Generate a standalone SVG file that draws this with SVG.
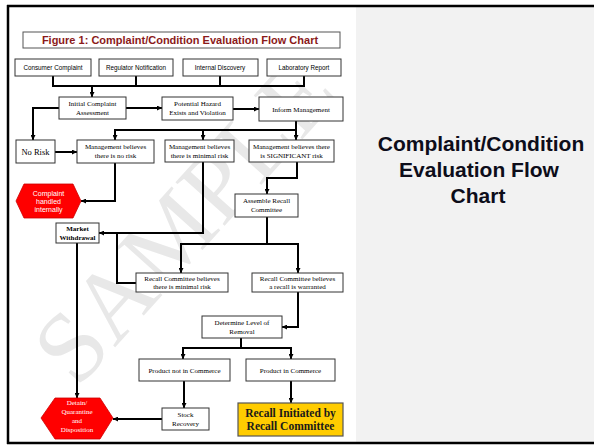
<svg xmlns="http://www.w3.org/2000/svg" width="594" height="447" viewBox="0 0 594 447">
  <defs>
    <marker id="arr" viewBox="0 0 10 10" refX="10" refY="5" markerWidth="5" markerHeight="5" markerUnits="userSpaceOnUse" orient="auto">
      <path d="M0,0 L10,5 L0,10 z" fill="#000"/>
    </marker>
    <style>
      .box { fill: #fff; stroke: #333; stroke-width: 1; }
      .src { font-family: "Liberation Sans", Arial, sans-serif; font-size: 6.3px; fill: #000; text-anchor: middle; }
      .lbl { font-family: "Liberation Serif", "Times New Roman", serif; font-size: 7px; fill: #000; text-anchor: middle; }
      .hexr { fill: #ff0000; stroke: #cc0000; stroke-width: 0.8; }
      .wt { font-family: "Liberation Sans", Arial, sans-serif; font-size: 7px; fill: #fff; text-anchor: middle; }
      .wts { font-family: "Liberation Serif", "Times New Roman", serif; font-size: 7px; fill: #fff; text-anchor: middle; }
      .ln { fill: none; stroke: #000; stroke-width: 2; }
      .la { fill: none; stroke: #000; stroke-width: 2; marker-end: url(#arr); }
    </style>
  </defs>

  <!-- page background and frame -->
  <rect x="0" y="0" width="594" height="447" fill="#fff"/>
  <rect x="356" y="7" width="238" height="436" fill="#f2f2f2"/>
  <g stroke="#000" stroke-width="2.5" fill="none">
    <line x1="7" y1="6" x2="594" y2="6"/>
    <line x1="8" y1="5" x2="8" y2="444"/>
    <line x1="7" y1="443" x2="594" y2="443"/>
  </g>

  <!-- side heading -->
  <g id="side-title" font-family="'Liberation Sans', Arial, sans-serif" font-weight="bold" font-size="21" fill="#0d0d1a" text-anchor="middle">
    <text x="481" y="151">Complaint/Condition</text>
    <text x="479" y="177">Evaluation Flow</text>
    <text x="478" y="203">Chart</text>
  </g>

  <!-- watermark -->
  <text transform="translate(184,220) rotate(-48)" x="0" y="34" font-family="'Liberation Serif', 'Times New Roman', serif" font-size="100" fill="#e8e8e8" text-anchor="middle">SAMPLE</text>

  <!-- chart title -->
  <g id="chart-title">
    <rect x="23" y="32" width="317" height="16" fill="#fff" stroke="#555" stroke-width="1"/>
    <text x="180" y="44" font-family="'Liberation Sans', Arial, sans-serif" font-weight="bold" font-size="11" fill="#8b1a1a" text-anchor="middle">Figure 1: Complaint/Condition Evaluation Flow Chart</text>
  </g>

  <!-- connectors -->
  <g id="connectors">
    <path class="ln" d="M53,76 V86 M136,76 V86 M220,76 V86 M304,76 V86 M52,86 H305"/>
    <path class="la" d="M92,86 V97"/>
    <path class="la" d="M126,108 H162"/>
    <path class="la" d="M233,109 H259"/>
    <path class="la" d="M59,108 H33 V140"/>
    <path class="la" d="M55,152 H77"/>
    <path class="la" d="M296,121 V140"/>
    <path class="ln" d="M296,130 H115"/>
    <path class="la" d="M115,129 V140"/>
    <path class="la" d="M203,130 V140"/>
    <path class="la" d="M115,163 V201 H81"/>
    <path class="la" d="M203,162 V233 H99"/>
    <path class="la" d="M297,162 V178 H267 V194"/>
    <path class="ln" d="M267,217 V244 M180,244 H299"/>
    <path class="la" d="M181,243 V273"/>
    <path class="la" d="M298,243 V273"/>
    <path class="ln" d="M136,283 H117 V233"/>
    <path class="la" d="M298,292 V327 H282"/>
    <path class="ln" d="M241,338 V348 M182,348 H292"/>
    <path class="la" d="M183,347 V359"/>
    <path class="la" d="M291,347 V359"/>
    <path class="la" d="M184,381 V408"/>
    <path class="la" d="M291,381 V403"/>
    <path class="la" d="M162,419 H113"/>
    <path class="la" d="M77,243 V398"/>
  </g>

  <!-- source boxes -->
  <g id="consumer-complaint">
    <rect class="box" x="15" y="59" width="76" height="17"/>
    <text class="src" x="53" y="70">Consumer Complaint</text>
  </g>
  <g id="regulator-notification">
    <rect class="box" x="99" y="59" width="74" height="17"/>
    <text class="src" x="136" y="70">Regulator Notification</text>
  </g>
  <g id="internal-discovery">
    <rect class="box" x="183" y="59" width="75" height="17"/>
    <text class="src" x="220" y="70">Internal Discovery</text>
  </g>
  <g id="laboratory-report">
    <rect class="box" x="267" y="59" width="74" height="17"/>
    <text class="src" x="304" y="70">Laboratory Report</text>
  </g>

  <!-- assessment row -->
  <g id="initial-assessment">
    <rect class="box" x="59" y="97" width="67" height="22"/>
    <text class="lbl" x="92.5" y="106">Initial Complaint</text>
    <text class="lbl" x="92.5" y="115">Assessment</text>
  </g>
  <g id="potential-hazard">
    <rect class="box" x="162" y="97" width="71" height="23"/>
    <text class="lbl" x="197.5" y="106">Potential Hazard</text>
    <text class="lbl" x="197.5" y="115">Exists and Violation</text>
  </g>
  <g id="inform-management">
    <rect class="box" x="259" y="97" width="84" height="24"/>
    <text class="lbl" x="301" y="111.5">Inform Management</text>
  </g>

  <!-- management decision row -->
  <g id="no-risk">
    <rect class="box" x="16" y="140" width="39" height="23"/>
    <text class="lbl" x="35.5" y="155" style="font-size:8.5px">No Risk</text>
  </g>
  <g id="mgmt-no-risk">
    <rect class="box" x="77" y="140" width="77" height="23"/>
    <text class="lbl" x="115.5" y="149">Management believes</text>
    <text class="lbl" x="115.5" y="158">there is no risk</text>
  </g>
  <g id="mgmt-minimal-risk">
    <rect class="box" x="165" y="140" width="69" height="22"/>
    <text class="lbl" x="199.5" y="149">Management believes</text>
    <text class="lbl" x="199.5" y="158">there is minimal risk</text>
  </g>
  <g id="mgmt-significant-risk">
    <rect class="box" x="249" y="140" width="85" height="22"/>
    <text class="lbl" x="291.5" y="149">Management believes there</text>
    <text class="lbl" x="291.5" y="158">is SIGNIFICANT risk</text>
  </g>

  <g id="complaint-handled">
    <polygon class="hexr" points="16,201 24,184 73,184 81,201 73,218 24,218"/>
    <text class="wt" x="48.5" y="195.5">Complaint</text>
    <text class="wt" x="48.5" y="203.5">handled</text>
    <text class="wt" x="48.5" y="211.5">internally</text>
  </g>

  <g id="assemble-committee">
    <rect class="box" x="235" y="194" width="63" height="23"/>
    <text class="lbl" x="266.5" y="203">Assemble Recall</text>
    <text class="lbl" x="266.5" y="212">Committee</text>
  </g>

  <g id="market-withdrawal">
    <rect class="box" x="56" y="223" width="43" height="20"/>
    <text class="lbl" x="77.5" y="231" font-weight="bold">Market</text>
    <text class="lbl" x="77.5" y="240" font-weight="bold">Withdrawal</text>
  </g>

  <!-- recall committee row -->
  <g id="committee-minimal-risk">
    <rect class="box" x="136" y="273" width="92" height="19"/>
    <text class="lbl" x="182" y="281">Recall Committee believes</text>
    <text class="lbl" x="182" y="289">there is minimal risk</text>
  </g>
  <g id="committee-recall-warranted">
    <rect class="box" x="252" y="273" width="91" height="19"/>
    <text class="lbl" x="297.5" y="281">Recall Committee believes</text>
    <text class="lbl" x="297.5" y="289">a recall is warranted</text>
  </g>

  <g id="determine-removal">
    <rect class="box" x="202" y="316" width="80" height="22"/>
    <text class="lbl" x="242" y="325">Determine Level of</text>
    <text class="lbl" x="242" y="334">Removal</text>
  </g>

  <!-- commerce row -->
  <g id="product-not-in-commerce">
    <rect class="box" x="139" y="359" width="91" height="22"/>
    <text class="lbl" x="184.5" y="372.5">Product not in Commerce</text>
  </g>
  <g id="product-in-commerce">
    <rect class="box" x="246" y="359" width="89" height="22"/>
    <text class="lbl" x="290.5" y="372.5">Product in Commerce</text>
  </g>

  <g id="stock-recovery">
    <rect class="box" x="162" y="408" width="47" height="22"/>
    <text class="lbl" x="185.5" y="417">Stock</text>
    <text class="lbl" x="185.5" y="426">Recovery</text>
  </g>

  <g id="detain-quarantine">
    <polygon class="hexr" points="41,418 55,398 100,398 113,418 100,439 55,439"/>
    <text class="wts" x="77" y="405">Detain/</text>
    <text class="wts" x="77" y="414">Quarantine</text>
    <text class="wts" x="77" y="423">and</text>
    <text class="wts" x="77" y="432">Disposition</text>
  </g>

  <g id="recall-initiated">
    <rect x="238" y="403" width="105" height="33" fill="#ffcc00" stroke="#555" stroke-width="1.2"/>
    <text x="290.5" y="416.5" font-family="'Liberation Serif', 'Times New Roman', serif" font-weight="bold" font-size="11.5" fill="#1a1a1a" text-anchor="middle">Recall Initiated by</text>
    <text x="290.5" y="430" font-family="'Liberation Serif', 'Times New Roman', serif" font-weight="bold" font-size="11.5" fill="#1a1a1a" text-anchor="middle">Recall Committee</text>
  </g>
</svg>
